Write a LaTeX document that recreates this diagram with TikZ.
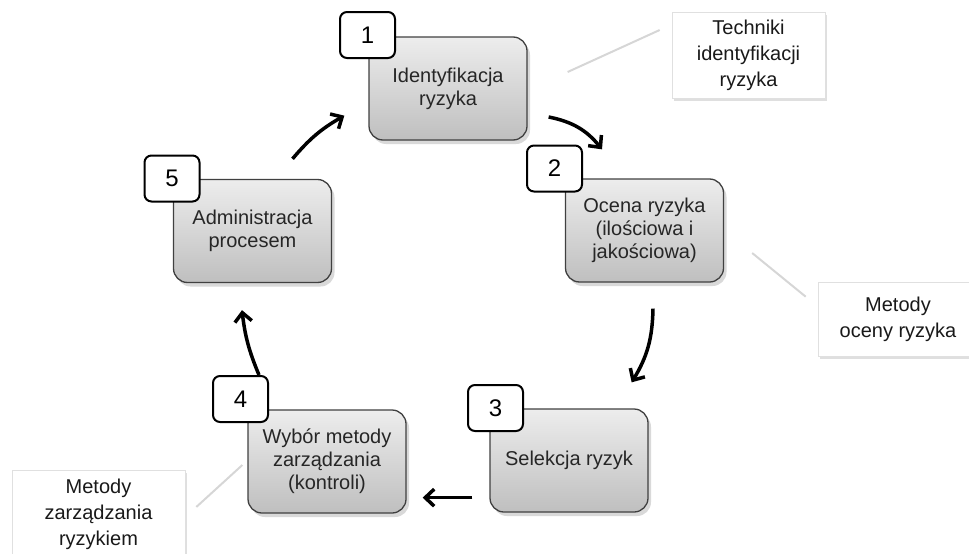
\documentclass[tikz,border=0pt]{standalone}
\usepackage{fontspec}
\setmainfont{Liberation Sans}
\usetikzlibrary{positioning,shadows,arrows.meta}
\definecolor{boxtop}{HTML}{EDEDED}
\definecolor{boxbottom}{HTML}{BFBFBF}
\definecolor{boxedge}{HTML}{404040}
\definecolor{notegray}{HTML}{D6D6D6}
\tikzset{%
  step box/.style={
    rectangle,
    rounded corners=14pt,
    draw=boxedge,
    line width=1.3pt,
    top color=boxtop,
    bottom color=boxbottom,
    minimum width=158pt,
    minimum height=103pt,
    align=center,
    text=black!85,
    font=\fontsize{20}{23}\selectfont,
    drop shadow={shadow xshift=3pt, shadow yshift=-4pt, opacity=0.3}
  },
  number box/.style={
    rectangle,
    rounded corners=7pt,
    draw=black,
    line width=2pt,
    fill=white,
    minimum width=55pt,
    minimum height=46pt,
    font=\fontsize{24}{28}\selectfont
  },
  note box/.style={
    rectangle,
    draw=black!12,
    line width=0.6pt,
    fill=white,
    align=center,
    text=black!90,
    font=\fontsize{20}{26}\selectfont,
    drop shadow={shadow xshift=2pt, shadow yshift=-3pt, opacity=0.25}
  },
  cycle arrow/.style={
    line width=3.5pt,
    -{Straight Barb[length=9pt, width=17pt]}
  },
  note line/.style={
    draw=notegray,
    line width=2pt
  },
}

\begin{document}
\begin{tikzpicture}[x=1pt, y=-1pt]

\useasboundingbox (0,0) rectangle (969,554);
\clip (0,0) rectangle (969,554);

% steps of the cycle
\foreach \n/\x/\y/\t in {1/448/88.5/{Identyfikacja\\ryzyka},
                          2/644.5/230.5/{Ocena ryzyka\\(ilościowa i\\jakościowa)},
                          3/569/460.5/{Selekcja ryzyk},
                          4/327/461.5/{Wybór metody\\zarządzania\\(kontroli)},
                          5/252.5/231/{Administracja\\procesem}}
  \node [step box] (step-\n) at (\x,\y) {\t};

% number tags
\foreach \n/\x/\y in {1/367.5/35, 2/554.5/168.5, 3/495.5/408, 4/240.5/399, 5/172/178.5}
  \node [number box] (num-\n) at (\x,\y) {\n};

% side notes
\node [note box, minimum width=153pt, minimum height=86pt] (note-1) at (748.5,55)
  {Techniki\\identyfikacji\\ryzyka};
\node [note box, minimum width=160pt, minimum height=74pt] (note-2) at (898,319)
  {Metody\\oceny ryzyka};
\node [note box, minimum width=173pt, minimum height=88pt] (note-3) at (98.5,514)
  {Metody\\zarządzania\\ryzykiem};

\draw [note line] ([shift={(40,-16.5)}]step-1.east) -- ([shift={(-12,-25)}]note-1.west);
\draw [note line] ([shift={(28,22.5)}]step-2.east) -- ([shift={(-12,15)}]note-2.north west);
\draw [note line] ([shift={(11,-7)}]note-3.east) -- ([shift={(-5,3.5)}]step-4.west);

% cycle arrows
\draw [cycle arrow] ([shift={(21,28.5)}]step-1.east) to [bend left=20]
  ([shift={(-42.5,-29)}]step-2.north);
\draw [cycle arrow] ([shift={(8.5,26)}]step-2.south) to [bend left=15]
  ([shift={(-17,-26)}]step-3.north east);
\draw [cycle arrow] ([shift={(-17,-15)}]step-3.south west) --
  ([shift={(16,-16)}]step-4.south east);
\draw [cycle arrow] ([shift={(18.5,0)}]num-4.north) to [bend left=8]
  ([shift={(-10.5,27)}]step-5.south);
\draw [cycle arrow] ([shift={(40,-20)}]step-5.north) to [bend left=10]
  ([shift={(-24,-25)}]step-1.south west);

\end{tikzpicture}
\end{document}
